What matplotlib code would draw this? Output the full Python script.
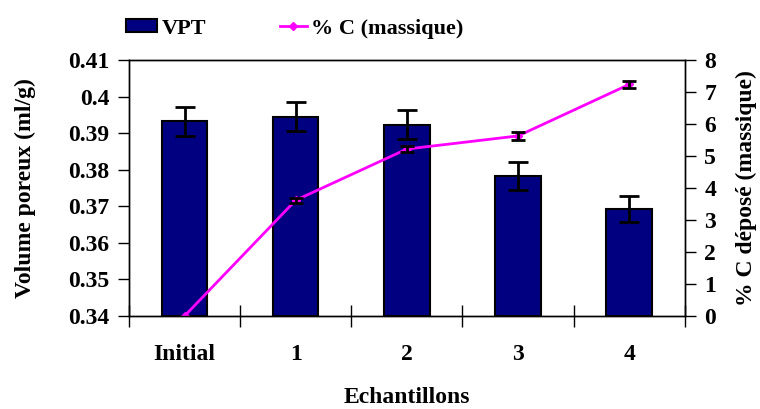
import numpy as np
import matplotlib
matplotlib.use("Agg")
import matplotlib.pyplot as plt

plt.rcParams['font.family'] = ['Liberation Serif', 'DejaVu Serif']
plt.rcParams['font.weight'] = 'bold'

categories = ['Initial', '1', '2', '3', '4']
vpt = [0.3933, 0.3945, 0.3923, 0.3783, 0.3693]
vpt_err = [0.0040, 0.0040, 0.0040, 0.0039, 0.0036]
pc = [0.0, 3.62, 5.22, 5.63, 7.24]
pc_err = [0.0, 0.08, 0.10, 0.12, 0.12]

x = np.arange(len(categories))
fs = 17

fig = plt.figure(figsize=(7.6, 4.09), dpi=100)
ax = fig.add_axes([0.1697, 0.2274, 0.7313, 0.6256])

bars = ax.bar(x, [v - 0.34 for v in vpt], bottom=0.34, width=0.41,
              color='#000080', edgecolor='black', linewidth=1.5, label='VPT')
ax.errorbar(x, vpt, yerr=vpt_err, fmt='none', ecolor='black',
            elinewidth=2, capsize=7, capthick=2)
ax.set_xlim(-0.5, 4.5)
ax.set_ylim(0.34, 0.41)
ax.set_yticks(np.arange(0.34, 0.4101, 0.01))
ax.set_yticklabels(['0.34', '0.35', '0.36', '0.37', '0.38', '0.39', '0.4', '0.41'])
ax.set_xticks(x)
ax.set_xticklabels(categories)
ax.set_xticks(np.arange(-0.5, 4.6, 1), minor=True)
ax.tick_params(axis='x', which='major', length=0, pad=20, labelsize=fs)
ax.tick_params(axis='x', which='minor', direction='inout', length=16, width=1)
ax.tick_params(axis='y', direction='out', length=8, width=1, labelsize=fs, pad=6)
ax.set_xlabel('Echantillons', fontsize=fs, fontweight='bold', labelpad=16)
ax.set_ylabel('Volume poreux (ml/g)', fontsize=fs, fontweight='bold', labelpad=23)

ax2 = ax.twinx()
line, = ax2.plot(x, pc, color='#FF00FF', linewidth=2, marker='D', markersize=4,
                 label='% C (massique)')
ax2.errorbar(x[1:], pc[1:], yerr=pc_err[1:], fmt='none', ecolor='black',
             elinewidth=2, capsize=5, capthick=2)
ax2.set_ylim(0, 8)
ax2.set_yticks(range(0, 9))
ax2.tick_params(axis='y', direction='out', length=8, width=1, labelsize=fs, pad=6)
ax2.set_ylabel('% C déposé (massique)', fontsize=fs, fontweight='bold', labelpad=14)

for a in (ax, ax2):
    for s in a.spines.values():
        s.set_linewidth(1)

leg_fs = 16
leg1 = fig.legend([bars], ['VPT'], loc='center left',
                  bbox_to_anchor=(126 / 760, 0.93), frameon=False,
                  fontsize=leg_fs, handlelength=1.4, handletextpad=0.2,
                  handleheight=0.5, borderpad=0, borderaxespad=0)
leg2 = fig.legend([line], ['% C (massique)'], loc='center left',
                  bbox_to_anchor=(280 / 760, 0.93), frameon=False,
                  fontsize=leg_fs, handlelength=1.2, handletextpad=0.2,
                  borderpad=0, borderaxespad=0)

fig.savefig('out.png', dpi=100)
